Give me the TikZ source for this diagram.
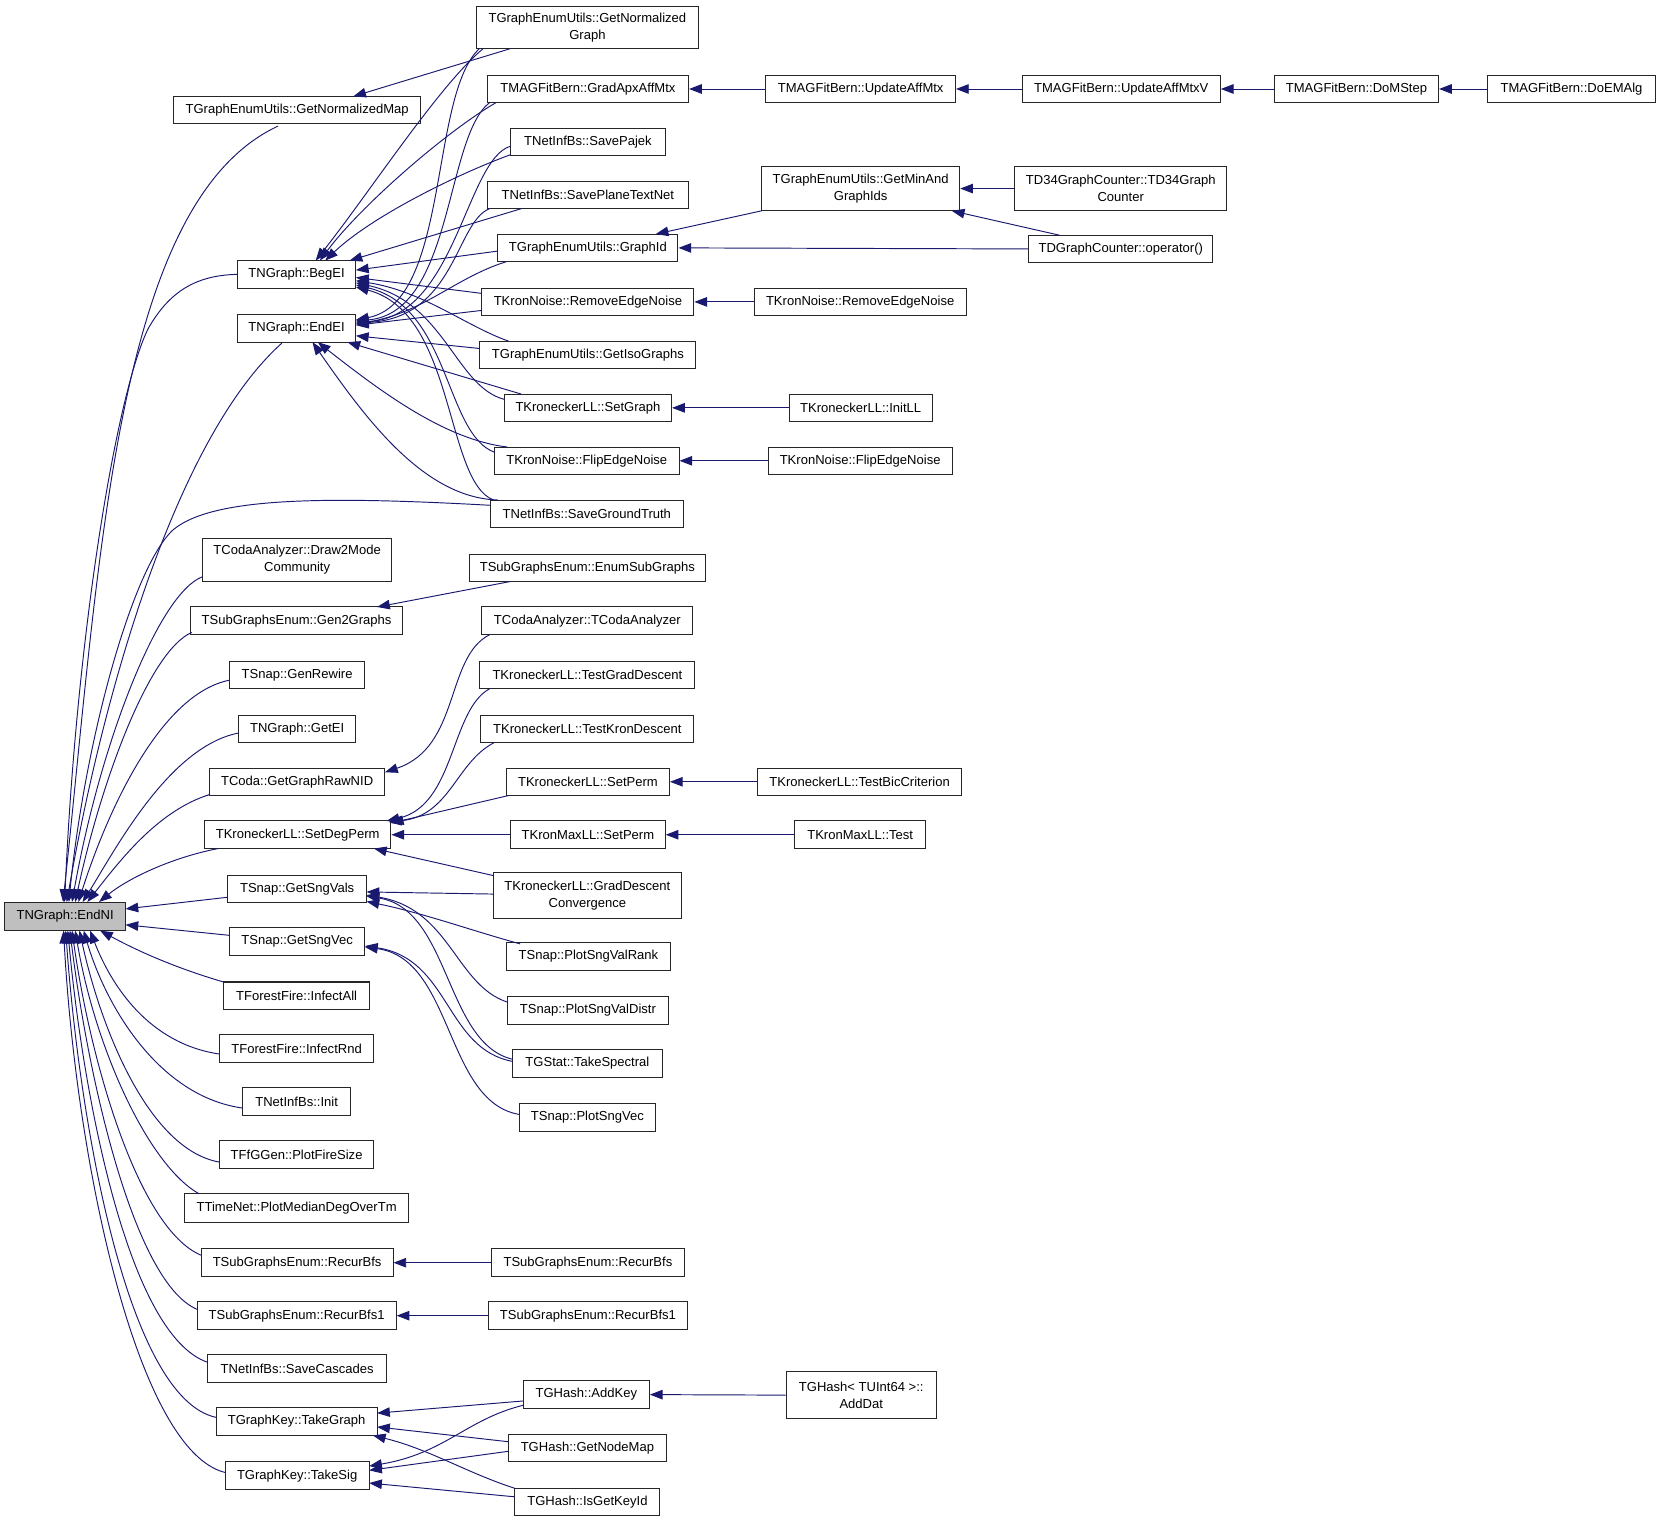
\documentclass[tikz,border=0pt]{standalone}
\usepackage{fontspec}
\setmainfont{Liberation Sans}
\usetikzlibrary{arrows.meta,calc}
\definecolor{mb}{RGB}{25,25,112}
\begin{document}
\begin{tikzpicture}[x=1pt,y=-1pt,
  box/.style={draw=black!85, line width=0.95pt, inner sep=0pt, minimum height=26pt, align=center, font=\fontsize{12.3}{15.8}\selectfont},
  rootbox/.style={box, fill=black!25, minimum height=27pt},
  edge/.style={draw=mb, line width=0.9pt, -{Triangle[length=12pt,width=9pt]}},
]
\useasboundingbox[fill=white] (0,0) rectangle (1568,1438);

% root
\node[rootbox, minimum width=114pt] (root) at (61.5,865) {TNGraph::EndNI};

% column B
\node[box, minimum width=233pt] (gnm) at (280.5,104) {TGraphEnumUtils::GetNormalizedMap};
\node[box, minimum width=112pt] (begel) at (280,259) {TNGraph::BegEI};
\node[box, minimum width=112pt] (endel) at (280,310) {TNGraph::EndEI};
\node[box, minimum width=179pt, minimum height=41pt] (draw2) at (280.5,528.5) {TCodaAnalyzer::Draw2Mode\\Community};
\node[box, minimum width=200pt] (gen2) at (280,586) {TSubGraphsEnum::Gen2Graphs};
\node[box, minimum width=127pt] (genrw) at (280.5,637) {TSnap::GenRewire};
\node[box, minimum width=111pt] (getel) at (280.5,688) {TNGraph::GetEI};
\node[box, minimum width=165pt] (rawnid) at (280.5,738) {TCoda::GetGraphRawNID};
\node[box, minimum width=176pt] (setdeg) at (281,788) {TKroneckerLL::SetDegPerm};
\node[box, minimum width=131pt] (sngvals) at (280.5,839) {TSnap::GetSngVals};
\node[box, minimum width=127pt] (sngvec) at (280.5,889) {TSnap::GetSngVec};
\node[box, minimum width=138pt] (infall) at (280,940) {TForestFire::InfectAll};
\node[box, minimum width=146pt] (infrnd) at (280,990) {TForestFire::InfectRnd};
\node[box, minimum width=102pt] (init) at (280,1040) {TNetInfBs::Init};
\node[box, minimum width=146pt] (fire) at (280,1090) {TFfGGen::PlotFireSize};
\node[box, minimum width=212pt, minimum height=27pt] (median) at (280,1140.5) {TTimeNet::PlotMedianDegOverTm};
\node[box, minimum width=181pt] (rbfs) at (280.5,1192) {TSubGraphsEnum::RecurBfs};
\node[box, minimum width=188pt] (rbfs1) at (280,1242) {TSubGraphsEnum::RecurBfs1};
\node[box, minimum width=169pt] (casc) at (280.5,1292) {TNetInfBs::SaveCascades};
\node[box, minimum width=152pt] (tgraph) at (280,1342) {TGraphKey::TakeGraph};
\node[box, minimum width=136pt] (tsig) at (280.5,1393) {TGraphKey::TakeSig};

% column C
\node[box, minimum width=209pt, minimum height=40pt] (gng) at (554.5,26) {TGraphEnumUtils::GetNormalized\\Graph};
\node[box, minimum width=190pt] (grad) at (555,84) {TMAGFitBern::GradApxAffMtx};
\node[box, minimum width=146pt] (pajek) at (555,134) {TNetInfBs::SavePajek};
\node[box, minimum width=190pt] (plane) at (555,184) {TNetInfBs::SavePlaneTextNet};
\node[box, minimum width=170pt] (gid) at (555,234) {TGraphEnumUtils::GraphId};
\node[box, minimum width=200pt] (ren) at (555,285) {TKronNoise::RemoveEdgeNoise};
\node[box, minimum width=204pt] (iso) at (555,335) {TGraphEnumUtils::GetIsoGraphs};
\node[box, minimum width=158pt] (setg) at (555,385) {TKroneckerLL::SetGraph};
\node[box, minimum width=174pt] (flip) at (554,435) {TKronNoise::FlipEdgeNoise};
\node[box, minimum width=182pt] (sgt) at (554,485) {TNetInfBs::SaveGroundTruth};
\node[box, minimum width=223pt] (enumsg) at (554.5,536) {TSubGraphsEnum::EnumSubGraphs};
\node[box, minimum width=199pt] (coda) at (554.5,586) {TCodaAnalyzer::TCodaAnalyzer};
\node[box, minimum width=203pt] (tgd) at (554.5,637) {TKroneckerLL::TestGradDescent};
\node[box, minimum width=201pt] (tkd) at (554.5,688) {TKroneckerLL::TestKronDescent};
\node[box, minimum width=154pt] (setp) at (555,738) {TKroneckerLL::SetPerm};
\node[box, minimum width=146pt] (kmsetp) at (555,788) {TKronMaxLL::SetPerm};
\node[box, minimum width=177pt, minimum height=43pt] (gdc) at (554.5,845.5) {TKroneckerLL::GradDescent\\Convergence};
\node[box, minimum width=155pt] (pvr) at (555.5,903) {TSnap::PlotSngValRank};
\node[box, minimum width=152pt] (pvd) at (555,954) {TSnap::PlotSngValDistr};
\node[box, minimum width=141pt] (spec) at (554.5,1004) {TGStat::TakeSpectral};
\node[box, minimum width=129pt] (psv) at (554.5,1055) {TSnap::PlotSngVec};
\node[box, minimum width=182pt] (rbfsc) at (555,1192) {TSubGraphsEnum::RecurBfs};
\node[box, minimum width=188pt] (rbfs1c) at (555,1242) {TSubGraphsEnum::RecurBfs1};
\node[box, minimum width=119pt] (addkey) at (553.5,1316.5) {TGHash::AddKey};
\node[box, minimum width=149pt] (nodemap) at (554.5,1367) {TGHash::GetNodeMap};
\node[box, minimum width=137pt] (iskey) at (554.5,1418) {TGHash::IsGetKeyId};

% column D
\node[box, minimum width=179pt] (uam) at (812.5,84) {TMAGFitBern::UpdateAffMtx};
\node[box, minimum width=187pt, minimum height=42pt] (minand) at (812.5,178) {TGraphEnumUtils::GetMinAnd\\GraphIds};
\node[box, minimum width=200pt] (rend) at (812,285) {TKronNoise::RemoveEdgeNoise};
\node[box, minimum width=135pt] (initll) at (812.5,385) {TKroneckerLL::InitLL};
\node[box, minimum width=174pt] (flipd) at (812,435) {TKronNoise::FlipEdgeNoise};
\node[box, minimum width=193pt] (bic) at (811.5,738) {TKroneckerLL::TestBicCriterion};
\node[box, minimum width=124pt] (kmtest) at (812,788) {TKronMaxLL::Test};
\node[box, minimum width=142pt, minimum height=44pt] (adddat) at (813,1317) {TGHash< TUInt64 >::\\AddDat};

% columns E, F, G
\node[box, minimum width=187pt] (uamv) at (1058.5,84) {TMAGFitBern::UpdateAffMtxV};
\node[box, minimum width=200pt, minimum height=42pt] (td34) at (1058,178) {TD34GraphCounter::TD34Graph\\Counter};
\node[box, minimum width=174pt] (tdop) at (1058,235) {TDGraphCounter::operator()};
\node[box, minimum width=155pt] (mstep) at (1280.5,84) {TMAGFitBern::DoMStep};
\node[box, minimum width=159pt] (emalg) at (1483.5,84) {TMAGFitBern::DoEMAlg};

% ---- edges into root (upper)
\draw[edge] ($(gnm)+(-18,15)$) .. controls (110,190) and (95,520) .. ($(root)+(-2,-13.5)$);
\draw[edge] (begel.west) .. controls (185,260) and (160,275) .. (140,310) .. controls (110,370) and (72,600) .. ($(root)+(-0.5,-13.5)$);
\draw[edge] ($(endel)+(-14,14)$) .. controls (170,410) and (100,640) .. ($(root)+(1.5,-13.5)$);
\draw[edge] ($(sgt)+(-91,-8)$) .. controls (300,468) and (200,470) .. (163.6,500) .. controls (125,535) and (80,700) .. ($(root)+(3.5,-13.5)$);
\draw[edge] ($(draw2)+(-89.5,16)$) .. controls (150,560) and (95,700) .. ($(root)+(6.5,-13.5)$);
\draw[edge] ($(gen2)+(-99,11)$) .. controls (140,615) and (95,740) .. ($(root)+(9.5,-13.5)$);
\draw[edge] ($(genrw)+(-63.5,5)$) .. controls (150,655) and (100,770) .. ($(root)+(12.5,-13.5)$);
\draw[edge] ($(getel)+(-55.5,4)$) .. controls (160,705) and (110,800) .. ($(root)+(16.5,-13.5)$);
\draw[edge] ($(rawnid)+(-82.5,12)$) .. controls (150,765) and (115,810) .. ($(root)+(21,-13.5)$);
\draw[edge] ($(setdeg)+(-75,13)$) .. controls (160,810) and (120,830) .. ($(root)+(32,-13.5)$);
\draw[edge] ($(sngvals)+(-65.5,8)$) -- ($(root)+(57,-7)$);
\draw[edge] ($(sngvec)+(-63.5,-6)$) -- ($(root)+(57,8)$);
% ---- edges into root (lower)
\draw[edge] ($(infall)+(-69,-13)$) .. controls (160,912) and (125,895) .. ($(root)+(33,13.5)$);
\draw[edge] ($(infrnd)+(-73,5)$) .. controls (140,985) and (105,930) .. ($(root)+(23.5,13.5)$);
\draw[edge] ($(init)+(-51,6)$) .. controls (150,1035) and (100,950) .. ($(root)+(17.5,13.5)$);
\draw[edge] ($(fire)+(-73,7)$) .. controls (140,1085) and (95,970) .. ($(root)+(13.5,13.5)$);
\draw[edge] ($(median)+(-92,-13.5)$) .. controls (140,1100) and (90,990) .. ($(root)+(9.5,13.5)$);
\draw[edge] ($(rbfs)+(-90.5,-7)$) .. controls (130,1160) and (85,1000) .. ($(root)+(6.5,13.5)$);
\draw[edge] ($(rbfs1)+(-94,-6)$) .. controls (125,1210) and (82,1010) .. ($(root)+(4.5,13.5)$);
\draw[edge] ($(casc)+(-84.5,-6)$) .. controls (120,1260) and (78,1030) .. ($(root)+(2.5,13.5)$);
\draw[edge] ($(tgraph)+(-76,-4)$) .. controls (120,1320) and (75,1060) .. ($(root)+(0.5,13.5)$);
\draw[edge] ($(tsig)+(-68,-3)$) .. controls (130,1370) and (72,1100) .. ($(root)+(-1.5,13.5)$);

% ---- into GetNormalizedMap
\draw[edge] ($(gng)+(-73,20)$) -- ($(gnm)+(53,-13)$);

% ---- into BegEl
\draw[edge] ($(gng)+(-98.5,20)$) .. controls (415,80) and (350,180) .. ($(begel)+(18,-13)$);
\draw[edge] ($(grad)+(-87,13)$) .. controls (420,125) and (340,195) .. ($(begel)+(22,-13)$);
\draw[edge] ($(pajek)+(-73,12)$) .. controls (430,165) and (350,205) .. ($(begel)+(27,-13)$);
\draw[edge] ($(plane)+(-63,13)$) -- ($(begel)+(50,-13)$);
\draw[edge] ($(gid)+(-85,3)$) -- ($(begel)+(56,-4)$);
\draw[edge] ($(ren)+(-100,-8)$) -- ($(begel)+(56,3)$);
\draw[edge] ($(iso)+(-75,-13)$) .. controls (440,308) and (400,275) .. ($(begel)+(56,6)$);
\draw[edge] ($(setg)+(-79,-8)$) .. controls (430,365) and (420,285) .. ($(begel)+(56,8)$);
\draw[edge] ($(flip)+(-87,-8)$) .. controls (420,410) and (425,290) .. ($(begel)+(56,10)$);
\draw[edge] ($(sgt)+(-88,-13)$) .. controls (420,455) and (430,295) .. ($(begel)+(56,12)$);

% ---- into EndEl
\draw[edge] ($(gng)+(-102,20)$) .. controls (405,90) and (425,285) .. ($(endel)+(56,-8)$);
\draw[edge] ($(grad)+(-93,13)$) .. controls (420,130) and (428,295) .. ($(endel)+(56,-7)$);
\draw[edge] ($(pajek)+(-73,4)$) .. controls (440,150) and (430,300) .. ($(endel)+(56,-6)$);
\draw[edge] ($(plane)+(-93,13)$) .. controls (430,210) and (430,300) .. ($(endel)+(56,-5)$);
\draw[edge] ($(gid)+(-77,13)$) .. controls (430,262) and (400,295) .. ($(endel)+(56,-4)$);
\draw[edge] ($(ren)+(-100,8)$) -- ($(endel)+(56,-3)$);
\draw[edge] ($(iso)+(-102,-6)$) -- ($(endel)+(56,7)$);
\draw[edge] ($(setg)+(-63,-13)$) -- ($(endel)+(48,13)$);
\draw[edge] ($(flip)+(-75,-13)$) .. controls (420,415) and (360,370) .. ($(endel)+(20,13)$);
\draw[edge] ($(sgt)+(-84,-13)$) .. controls (400,470) and (345,395) .. ($(endel)+(15,13)$);

% ---- other column-B callees
\draw[edge] ($(enumsg)+(-73,13)$) -- ($(gen2)+(76,-13)$);
\draw[edge] ($(coda)+(-92,13)$) .. controls (420,620) and (435,705) .. ($(rawnid)+(83,-9)$);
\draw[edge] ($(tgd)+(-92,13)$) .. controls (425,670) and (430,760) .. ($(setdeg)+(84,-13)$);
\draw[edge] ($(tkd)+(-88,13)$) .. controls (430,720) and (425,770) .. ($(setdeg)+(86,-12)$);
\draw[edge] ($(setp)+(-75,13)$) -- ($(setdeg)+(88,-11)$);
\draw[edge] (kmsetp.west) -- (setdeg.east);
\draw[edge] ($(gdc)+(-89,-19)$) -- ($(setdeg)+(72,13)$);
\draw[edge] ($(gdc)+(-88.5,-1.5)$) -- ($(sngvals)+(65.5,3)$);
\draw[edge] ($(pvr)+(-64.5,-12)$) .. controls (450,880) and (400,862) .. ($(sngvals)+(65.5,12)$);
\draw[edge] ($(pvd)+(-76,-8)$) .. controls (430,930) and (425,858) .. ($(sngvals)+(65.5,6)$);
\draw[edge] ($(spec)+(-70.5,-4)$) .. controls (420,985) and (425,858) .. ($(sngvals)+(65.5,7)$);
\draw[edge] ($(spec)+(-70.5,-2)$) .. controls (420,990) and (425,905) .. ($(sngvec)+(64,4)$);
\draw[edge] ($(psv)+(-64.5,-3)$) .. controls (420,1040) and (428,905) .. ($(sngvec)+(64,5)$);
\draw[edge] (rbfsc.west) -- (rbfs.east);
\draw[edge] (rbfs1c.west) -- (rbfs1.east);
\draw[edge] ($(addkey)+(-59.5,6)$) -- ($(tgraph)+(76,-8)$);
\draw[edge] ($(addkey)+(-59.5,10)$) .. controls (440,1340) and (420,1372) .. ($(tsig)+(68,-9)$);
\draw[edge] ($(nodemap)+(-74.5,-6)$) -- ($(tgraph)+(76,5)$);
\draw[edge] ($(nodemap)+(-74.5,3)$) -- ($(tsig)+(68,-5)$);
\draw[edge] ($(iskey)+(-68.5,-13)$) .. controls (440,1390) and (405,1368) .. ($(tgraph)+(72,13)$);
\draw[edge] ($(iskey)+(-68.5,-5)$) -- ($(tsig)+(68,7)$);

% ---- right part
\draw[edge] (adddat.west) -- (addkey.east);
\draw[edge] (uam.west) -- (grad.east);
\draw[edge] (uamv.west) -- (uam.east);
\draw[edge] (mstep.west) -- (uamv.east);
\draw[edge] (emalg.west) -- (mstep.east);
\draw[edge] ($(minand)+(-93.5,21)$) -- ($(gid)+(64,-13)$);
\draw[edge] (tdop.west) -- (gid.east);
\draw[edge] (td34.west) -- (minand.east);
\draw[edge] ($(tdop)+(-58,-13)$) -- ($(minand)+(86,21)$);
\draw[edge] (rend.west) -- (ren.east);
\draw[edge] (initll.west) -- (setg.east);
\draw[edge] (flipd.west) -- (flip.east);
\draw[edge] (bic.west) -- (setp.east);
\draw[edge] (kmtest.west) -- (kmsetp.east);
\end{tikzpicture}
\end{document}
